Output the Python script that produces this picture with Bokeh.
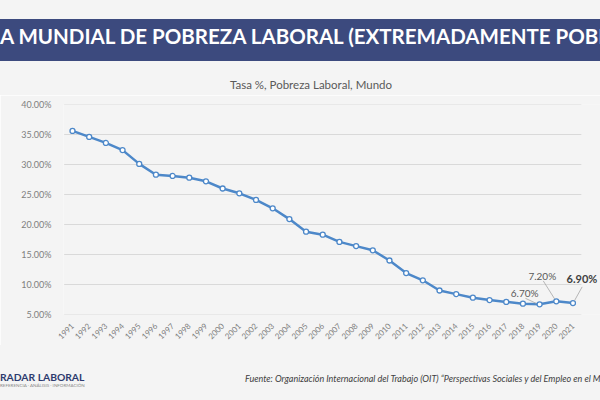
from bokeh.plotting import figure
from bokeh.models import Range1d, FixedTicker, PrintfTickFormatter, Label, Div
from bokeh.layouts import column
from bokeh.embed import file_html
from bokeh.resources import INLINE

# ---- data ----
years = [1991, 1992, 1993, 1994, 1995, 1996, 1997, 1998, 1999, 2000,
         2001, 2002, 2003, 2004, 2005, 2006, 2007, 2008, 2009, 2010,
         2011, 2012, 2013, 2014, 2015, 2016, 2017, 2018, 2019, 2020, 2021]
rates = [35.6, 34.6, 33.6, 32.4, 30.1, 28.3, 28.1, 27.8, 27.2, 26.0,
         25.2, 24.1, 22.7, 20.9, 18.8, 18.3, 17.1, 16.4, 15.7, 14.0,
         11.9, 10.7, 9.0, 8.4, 7.8, 7.4, 7.1, 6.8, 6.7, 7.2, 6.9]
y_ticks = [5, 10, 15, 20, 25, 30, 35, 40]
labeled_years = [2019, 2020, 2021]
labeled_texts = ["6.70%", "7.20%", "6.90%"]

TITLE = "TASA MUNDIAL DE POBREZA LABORAL (EXTREMADAMENTE POBRES)"
SUBTITLE = "Tasa %, Pobreza Laboral, Mundo"
LOGO = "RADAR LABORAL"
LOGO_SUB = "REFERENCIA · ANÁLISIS · INFORMACIÓN"
SOURCE = "Fuente: Organización Internacional del Trabajo (OIT) \u201cPerspectivas Sociales y del Empleo en el Mundo\u201d"

BG = "#f4f4f4"
BLUE = "#4d88c9"
GRID = "#d9d9d9"

# ---- top banner (HTML text) ----
top_html = f"""
<div style="position:relative;width:600px;height:95px;background:{BG};overflow:hidden;font-family:Lato,sans-serif;">
  <div style="position:absolute;left:0;top:19px;width:600px;height:42px;background:#3c4a7e;overflow:hidden;">
    <div style="position:absolute;left:302px;top:-4px;transform:translateX(-50%);white-space:nowrap;
                line-height:42px;color:white;font-weight:bold;font-size:20.5px;">{TITLE}</div>
  </div>
  <div style="position:absolute;left:0;top:77px;width:622px;text-align:center;white-space:nowrap;
              line-height:16px;font-size:11.5px;color:#595959;">{SUBTITLE}</div>
</div>
"""
top = Div(text=top_html, width=600, height=95, margin=0)

# ---- main chart ----
p = figure(width=600, height=250, x_range=Range1d(1990.46, 2022.65), y_range=Range1d(5, 40),
           output_backend="svg", toolbar_location=None, title=None,
           min_border_left=63, min_border_right=0, min_border_top=9, min_border_bottom=31,
           background_fill_color=BG, border_fill_color=BG, outline_line_color=None)

p.xaxis.ticker = FixedTicker(ticks=years)
p.xaxis.formatter = PrintfTickFormatter(format="%d")
p.xaxis.major_label_orientation = 0.785
p.xaxis.axis_line_color = None
p.xaxis.major_tick_line_color = None
p.xaxis.minor_tick_line_color = None
p.xaxis.major_label_standoff = 4
p.xaxis.major_label_text_font = "Lato"
p.xaxis.major_label_text_font_size = "8px"
p.xaxis.major_label_text_color = "#7f7f7f"

p.yaxis.ticker = FixedTicker(ticks=y_ticks)
p.yaxis.formatter = PrintfTickFormatter(format="%.2f%%")
p.yaxis.axis_line_color = None
p.yaxis.major_tick_line_color = None
p.yaxis.minor_tick_line_color = None
p.yaxis.major_label_standoff = 6
p.yaxis.major_label_text_font = "Lato"
p.yaxis.major_label_text_font_size = "9px"
p.yaxis.major_label_text_color = "#7f7f7f"

p.xgrid.visible = False
p.ygrid.visible = False
# horizontal gridlines spanning the category band only
g_left = years[0] - 0.5
g_right = years[-1] + 0.5
p.segment(x0=[g_left] * len(y_ticks), y0=y_ticks, x1=[g_right] * len(y_ticks), y1=y_ticks,
          line_color=GRID, line_width=1)

p.line(years, rates, line_color=BLUE, line_width=2.5)
p.scatter(years, rates, marker="circle", size=5, fill_color="white", line_color=BLUE, line_width=1.3)

# leader lines and data labels
idx = {y: i for i, y in enumerate(years)}
lab_vals = [rates[idx[y]] for y in labeled_years]
x0 = [labeled_years[0] - 0.85, labeled_years[1] - 0.78, labeled_years[2] + 0.55]
y0 = [lab_vals[0] + 1.0, lab_vals[1] + 3.4, lab_vals[2] + 2.7]
x1 = [labeled_years[0] - 0.2, labeled_years[1] - 0.1, labeled_years[2] + 0.1]
y1 = [lab_vals[0] + 0.15, lab_vals[1] + 0.4, lab_vals[2] + 0.45]
p.segment(x0=x0, y0=y0, x1=x1, y1=y1, line_color="#a6a6a6", line_width=0.8)

offsets = [(-15, 11), (-14, 25), (9, 25)]
for yr, v, t, (dx, dy) in zip(labeled_years, lab_vals, labeled_texts, offsets):
    bold = (yr == labeled_years[-1])
    p.add_layout(Label(x=yr, y=v, x_offset=dx, y_offset=dy, text=t,
                       text_align="center", text_baseline="middle",
                       text_font="Lato", text_font_size="11px" if bold else "10px",
                       text_font_style="bold" if bold else "normal",
                       text_color="#404040" if bold else "#595959"))

# ---- footer (HTML text) ----
bot_html = f"""
<div style="position:relative;width:600px;height:55px;background:{BG};overflow:hidden;font-family:Lato,sans-serif;">
  <div style="position:absolute;left:0;top:27px;white-space:nowrap;line-height:10px;font-size:10.3px;
              font-weight:bold;color:#2d3b6e;">{LOGO}</div>
  <div style="position:absolute;left:0;top:37.5px;white-space:nowrap;line-height:5px;font-size:4.5px;
              color:#8a8a8a;">{LOGO_SUB}</div>
  <div style="position:absolute;left:245px;top:27px;white-space:nowrap;line-height:14px;font-size:9px;
              font-style:italic;color:#404040;">{SOURCE}</div>
</div>
"""
bot = Div(text=bot_html, width=600, height=55, margin=0)

layout = column(top, p, bot, spacing=0)
open("out.html", "w").write(file_html(layout, INLINE))
